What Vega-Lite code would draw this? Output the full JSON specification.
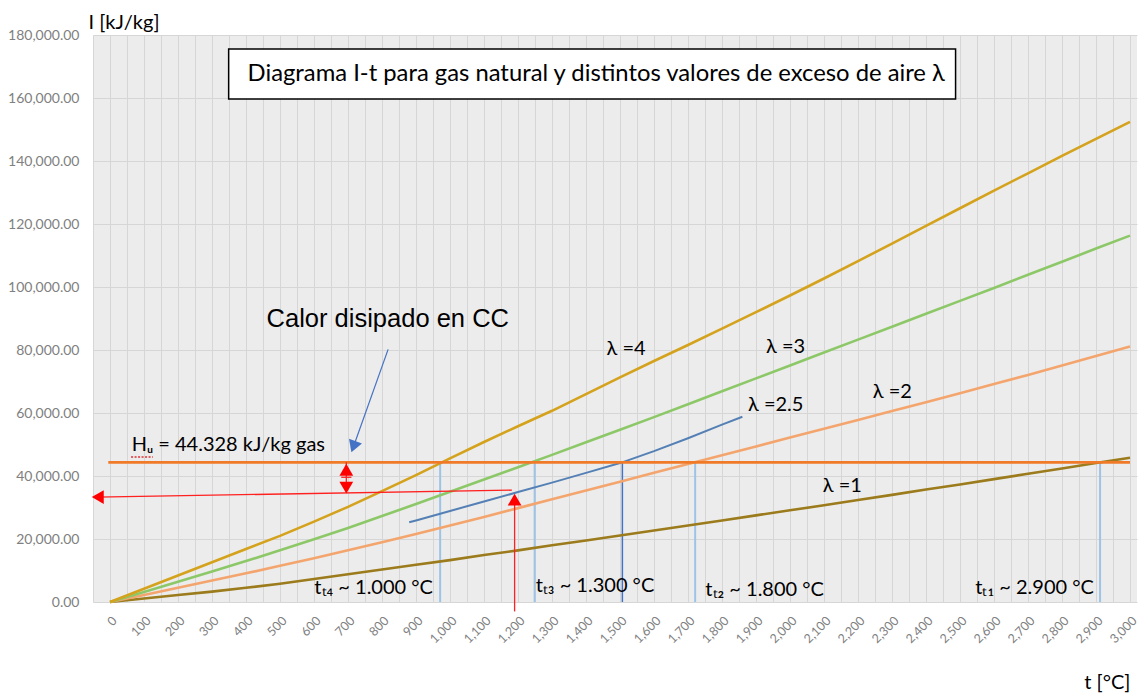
{
  "$schema": "https://vega.github.io/schema/vega-lite/v6.json",
  "width": 1044,
  "height": 567,
  "autosize": {"type": "none"},
  "padding": {"left": 93, "top": 35, "right": 4, "bottom": 91},
  "background": "white",
  "config": {
    "font": "Lato",
    "view": {"fill": "#ececec", "stroke": null},
    "axis": {"gridColor": "#d6d6d6", "gridWidth": 1, "domain": false, "ticks": false}
  },
  "resolve": {"axis": {"x": "independent"}},
  "datasets": {
    "curves": [
      {"t": 0, "l1": 0, "l2": 0, "l3": 0, "l4": 0},
      {"t": 100, "l1": 1100, "l2": 2200, "l3": 3200, "l4": 4200},
      {"t": 200, "l1": 2200, "l2": 4500, "l3": 6400, "l4": 8400},
      {"t": 300, "l1": 3300, "l2": 6800, "l3": 9700, "l4": 12600},
      {"t": 400, "l1": 4500, "l2": 9100, "l3": 13000, "l4": 16800},
      {"t": 500, "l1": 5800, "l2": 11500, "l3": 16400, "l4": 21000},
      {"t": 600, "l1": 7300, "l2": 13900, "l3": 19900, "l4": 25500},
      {"t": 700, "l1": 8800, "l2": 16400, "l3": 23500, "l4": 30200},
      {"t": 800, "l1": 10300, "l2": 19000, "l3": 27300, "l4": 35200},
      {"t": 900, "l1": 11800, "l2": 21600, "l3": 31100, "l4": 40300},
      {"t": 1000, "l1": 13300, "l2": 24300, "l3": 35000, "l4": 45600},
      {"t": 1100, "l1": 14900, "l2": 27000, "l3": 38900, "l4": 50800},
      {"t": 1200, "l1": 16400, "l2": 29800, "l3": 42800, "l4": 55800},
      {"t": 1300, "l1": 18000, "l2": 32600, "l3": 46700, "l4": 60700},
      {"t": 1400, "l1": 19500, "l2": 35400, "l3": 50700, "l4": 66000},
      {"t": 1500, "l1": 21100, "l2": 38200, "l3": 54700, "l4": 71300},
      {"t": 1600, "l1": 22700, "l2": 41000, "l3": 58700, "l4": 76500},
      {"t": 1700, "l1": 24300, "l2": 43800, "l3": 62800, "l4": 81600},
      {"t": 1800, "l1": 25900, "l2": 46600, "l3": 66900, "l4": 86800},
      {"t": 1900, "l1": 27500, "l2": 49400, "l3": 71000, "l4": 92000},
      {"t": 2000, "l1": 29100, "l2": 52200, "l3": 75100, "l4": 97300},
      {"t": 2100, "l1": 30700, "l2": 55000, "l3": 79200, "l4": 102700},
      {"t": 2200, "l1": 32400, "l2": 57800, "l3": 83300, "l4": 108200},
      {"t": 2300, "l1": 34000, "l2": 60600, "l3": 87400, "l4": 113800},
      {"t": 2400, "l1": 35700, "l2": 63400, "l3": 91500, "l4": 119400},
      {"t": 2500, "l1": 37300, "l2": 66300, "l3": 95600, "l4": 125000},
      {"t": 2600, "l1": 39000, "l2": 69200, "l3": 99700, "l4": 130600},
      {"t": 2700, "l1": 40700, "l2": 72100, "l3": 103900, "l4": 136100},
      {"t": 2800, "l1": 42400, "l2": 75100, "l3": 108000, "l4": 141600},
      {"t": 2900, "l1": 44100, "l2": 78100, "l3": 112200, "l4": 147000},
      {"t": 3000, "l1": 45800, "l2": 81100, "l3": 116300, "l4": 152400}
    ],
    "lam25": [
      {"t": 880, "I": 25300}, {"t": 900, "I": 25900}, {"t": 1000, "I": 28900},
      {"t": 1100, "I": 31900}, {"t": 1200, "I": 34900}, {"t": 1300, "I": 37900},
      {"t": 1400, "I": 41000}, {"t": 1500, "I": 44100}, {"t": 1600, "I": 47900},
      {"t": 1700, "I": 52000}, {"t": 1800, "I": 56300}, {"t": 1860, "I": 58800}
    ]
  },
  "layer": [
    {
      "data": {"values": [{"t": 349, "t2": 2487, "I": 175560, "I2": 159720}]},
      "mark": {"type": "rect", "fill": "white", "stroke": "black", "strokeWidth": 1.5},
      "encoding": {
        "x": {"field": "t", "type": "quantitative", "scale": {"domain": [-50, 3020.6], "nice": false, "zero": false},
          "axis": {
            "values": [0,100,200,300,400,500,600,700,800,900,1000,1100,1200,1300,1400,1500,1600,1700,1800,1900,2000,2100,2200,2300,2400,2500,2600,2700,2800,2900,3000],
            "format": ",d",
            "labelOverlap": false, "labelFlush": false, "labelBound": false,
            "labelAngle": -45, "labelFontSize": 12.5, "labelColor": "#808080", "labelPadding": 12,
            "grid": true,
            "title": "t [°C]", "titleFontSize": 20, "titleFontWeight": "normal", "titleColor": "#000000",
            "titleAlign": "right", "titleAnchor": null, "titleX": 1037, "titleY": 86, "titleBaseline": "alphabetic"
          }},
        "x2": {"field": "t2"},
        "y": {"field": "I", "type": "quantitative", "scale": {"domain": [0, 180000], "nice": false},
          "axis": {
            "values": [0,20000,40000,60000,80000,100000,120000,140000,160000,180000],
            "format": ",.2f", "labelFontSize": 14, "labelColor": "#808080", "labelPadding": 14,
            "grid": true,
            "title": "I [kJ/kg]", "titleAngle": 0, "titleFontSize": 20, "titleFontWeight": "normal", "titleColor": "#000000",
            "titleAlign": "left", "titleAnchor": null, "titleX": -5, "titleY": -7, "titleBaseline": "alphabetic"
          }},
        "y2": {"field": "I2"}
      }
    },
    {
      "data": {"values": [{"t": 1430, "I": 167640, "label": "Diagrama I-t para gas natural y distintos valores de exceso de aire λ"}]},
      "mark": {"type": "text", "fontSize": 23.8, "align": "center", "baseline": "middle", "color": "black"},
      "encoding": {
        "x": {"field": "t", "type": "quantitative",
          "axis": {
            "values": [-50,50,150,250,350,450,550,650,750,850,950,1050,1150,1250,1350,1450,1550,1650,1750,1850,1950,2050,2150,2250,2350,2450,2550,2650,2750,2850,2950],
            "labels": false, "grid": true, "title": null, "domain": false, "ticks": false
          }},
        "y": {"field": "I", "type": "quantitative"}, "text": {"field": "label"}}
    },
    {
      "data": {"values": [{"t": 971}, {"t": 1249}, {"t": 1721}, {"t": 2912}]},
      "mark": {"type": "rule", "color": "#9DC3E6", "strokeWidth": 2},
      "encoding": {"x": {"field": "t", "type": "quantitative", "axis": null}, "y": {"datum": 0, "type": "quantitative"}, "y2": {"datum": 44328}}
    },
    {
      "data": {"values": [{"t": 1507}]},
      "mark": {"type": "rule", "color": "#4472C4", "strokeWidth": 1.5},
      "encoding": {"x": {"field": "t", "type": "quantitative", "axis": null}, "y": {"datum": 0, "type": "quantitative"}, "y2": {"datum": 44328}}
    },
    {
      "data": {"name": "curves"},
      "transform": [{"fold": ["l1", "l2", "l3", "l4"], "as": ["s", "I"]}],
      "mark": {"type": "line", "strokeWidth": 2.6},
      "encoding": {
        "x": {"field": "t", "type": "quantitative", "axis": null},
        "y": {"field": "I", "type": "quantitative"},
        "color": {"field": "s", "type": "nominal", "scale": {"domain": ["l1", "l2", "l3", "l4"], "range": ["#9B7B1B", "#F4A56E", "#8DC868", "#D4A21C"]}, "legend": null}
      }
    },
    {
      "data": {"name": "lam25"},
      "mark": {"type": "line", "strokeWidth": 2, "color": "#5480B5"},
      "encoding": {"x": {"field": "t", "type": "quantitative", "axis": null}, "y": {"field": "I", "type": "quantitative"}}
    },
    {
      "data": {"values": [{"t": -5, "I": 44328}, {"t": 3000, "I": 44328}]},
      "mark": {"type": "line", "strokeWidth": 2.6, "color": "#F07A28"},
      "encoding": {"x": {"field": "t", "type": "quantitative", "axis": null}, "y": {"field": "I", "type": "quantitative"}}
    },
    {
      "data": {"values": [
        {"t": 695, "I": 44328, "t2": 695, "I2": 35000},
        {"t": 1182, "I": 35500, "t2": -40, "I2": 33300},
        {"t": 1190, "I": -3000, "t2": 1190, "I2": 33000},
        {"t": 680, "I": 39600, "t2": 710, "I2": 39600}
      ]},
      "mark": {"type": "rule", "color": "#FF2020", "strokeWidth": 1.3},
      "encoding": {"x": {"field": "t", "type": "quantitative", "axis": null}, "y": {"field": "I", "type": "quantitative"}, "x2": {"field": "t2"}, "y2": {"field": "I2"}}
    },
    {
      "data": {"values": [{"t": 62, "I": 46000, "t2": 126, "I2": 46000}]},
      "mark": {"type": "rule", "color": "#E03030", "strokeWidth": 1.5, "strokeDash": [2, 1.5]},
      "encoding": {"x": {"field": "t", "type": "quantitative", "axis": null}, "y": {"field": "I", "type": "quantitative"}, "x2": {"field": "t2"}, "y2": {"field": "I2"}}
    },
    {
      "data": {"values": [
        {"t": 695, "I": 42000, "shape": "triangle-up"},
        {"t": 695, "I": 36300, "shape": "triangle-down"},
        {"t": -36, "I": 33300, "shape": "triangle-left"},
        {"t": 1190, "I": 32500, "shape": "triangle-up"}
      ]},
      "mark": {"type": "point", "filled": true, "color": "#FF0000", "opacity": 1, "size": 190},
      "encoding": {"x": {"field": "t", "type": "quantitative", "axis": null}, "y": {"field": "I", "type": "quantitative"}, "shape": {"field": "shape", "type": "nominal", "scale": null}}
    },
    {
      "data": {"values": [{"t": 818, "I": 80200, "t2": 716, "I2": 49300}]},
      "mark": {"type": "rule", "color": "#4472C4", "strokeWidth": 1.2},
      "encoding": {"x": {"field": "t", "type": "quantitative", "axis": null}, "y": {"field": "I", "type": "quantitative"}, "x2": {"field": "t2"}, "y2": {"field": "I2"}}
    },
    {
      "data": {"values": [{"t": 716, "I": 49300}]},
      "mark": {"type": "point", "shape": "triangle-down", "filled": true, "color": "#4472C4", "opacity": 1, "size": 190, "angle": 20},
      "encoding": {"x": {"field": "t", "type": "quantitative", "axis": null}, "y": {"field": "I", "type": "quantitative"}}
    },
    {
      "data": {"values": [
        {"t": 1518, "I": 80330, "label": "λ =4"},
        {"t": 1987, "I": 80970, "label": "λ =3"},
        {"t": 1958, "I": 62590, "label": "λ =2.5"},
        {"t": 2301, "I": 66700, "label": "λ =2"},
        {"t": 2154, "I": 36900, "label": "λ =1"}
      ]},
      "mark": {"type": "text", "fontSize": 20, "align": "center", "baseline": "middle", "color": "black"},
      "encoding": {"x": {"field": "t", "type": "quantitative", "axis": null}, "y": {"field": "I", "type": "quantitative"}, "text": {"field": "label"}}
    },
    {
      "data": {"values": [
        {"t": 601, "I": 2400, "label": "tₜ₄ ~ 1.000 °C"},
        {"t": 1252, "I": 3200, "label": "tₜ₃ ~ 1.300 °C"},
        {"t": 1751, "I": 1900, "label": "tₜ₂ ~ 1.800 °C"},
        {"t": 2545, "I": 2500, "label": "tₜ₁ ~ 2.900 °C"},
        {"t": 64, "I": 47850, "label": "Hᵤ = 44.328 kJ/kg gas"}
      ]},
      "mark": {"type": "text", "fontSize": 20, "align": "left", "baseline": "alphabetic", "color": "black"},
      "encoding": {"x": {"field": "t", "type": "quantitative", "axis": null}, "y": {"field": "I", "type": "quantitative"}, "text": {"field": "label"}}
    },
    {
      "data": {"values": [{"t": 817, "I": 87150, "label": "Calor disipado en CC"}]},
      "mark": {"type": "text", "font": "Liberation Sans", "fontSize": 25.5, "align": "center", "baseline": "alphabetic", "color": "black"},
      "encoding": {"x": {"field": "t", "type": "quantitative", "axis": null}, "y": {"field": "I", "type": "quantitative"}, "text": {"field": "label"}}
    }
  ]
}
